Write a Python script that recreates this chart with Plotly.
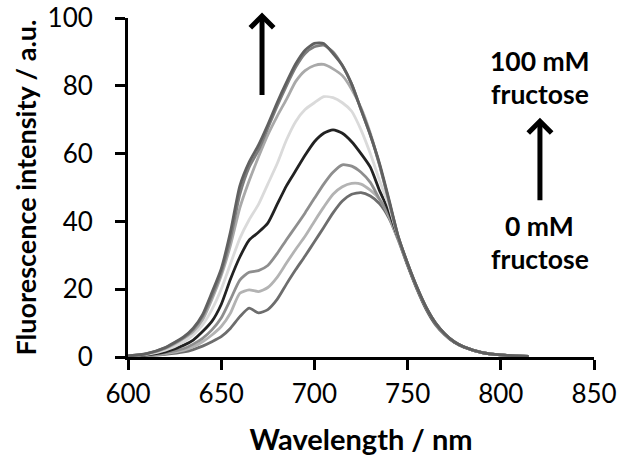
import plotly.graph_objects as go

wavelength = [600, 610, 620, 630, 635, 640, 645, 650, 655, 660, 665, 670, 675, 680,
              685, 690, 695, 700, 705, 710, 715, 720, 725, 730, 735, 740, 745, 750,
              755, 760, 765, 770, 775, 780, 790, 800, 815]

series_names = ["0 mM", "5 mM", "10 mM", "20 mM", "30 mM", "50 mM", "70 mM", "100 mM"]

s0 = [0.2, 0.4, 0.8, 1.5, 2.2, 3.2, 4.5, 6, 8.5, 11.9, 14.4, 13, 14, 17, 21.5, 25.8, 29.8, 34,
      38.2, 42.5, 46, 48, 48.5, 47.5, 45.2, 41, 34.5, 27, 20, 14, 9.5, 6.5, 4.3, 3, 1.3, 0.6, 0.2]
s1 = [0.2, 0.5, 1, 2, 3, 4.5, 6.5, 9, 13, 18.8, 19.8, 19.3, 20.5, 23.5, 27.7, 31.8, 35.6, 40,
      44.2, 48, 50.2, 51.2, 51, 49.2, 46.5, 41.5, 34.5, 27.2, 20.2, 14.2, 9.7, 6.6, 4.4, 3, 1.3, 0.6, 0.2]
s2 = [0.2, 0.5, 1.2, 2.5, 3.8, 5.5, 8, 11.5, 17, 22.7, 25, 25.5, 27, 30.5, 34.6, 38.5, 42.5, 46.8,
      51, 54.5, 56.7, 56.3, 54.5, 51.5, 46.5, 42, 35, 27.5, 20.5, 14.5, 10, 6.8, 4.5, 3, 1.3, 0.6, 0.2]
s3 = [0.2, 0.6, 1.5, 3.5, 5, 7.5, 10.5, 15.5, 23, 29.5, 34.5, 36.8, 39.5, 45, 50.5, 55, 59.5, 63.5,
      66, 67, 66, 63.5, 60, 56, 49, 43, 35, 27.3, 20.3, 14.3, 9.8, 6.7, 4.4, 3, 1.3, 0.6, 0.2]
s4 = [0.3, 0.8, 2, 4.5, 6.5, 9.5, 14, 20, 27.5, 35, 40.5, 45, 51, 57, 64, 69.5, 73, 75,
      76.8, 76.5, 75, 72.5, 67, 60, 52, 44.5, 35.2, 27.5, 20.5, 14.5, 10, 6.8, 4.5, 3, 1.3, 0.6, 0.2]
s5 = [0.3, 0.9, 2.5, 5.5, 7.5, 11, 17, 24, 33, 44, 52, 59, 65.5, 71, 76, 81.3, 84.5, 86,
      86.3, 85, 83, 79, 73.5, 66, 56.5, 46, 35.3, 27.5, 20.5, 14.5, 10, 6.8, 4.5, 3, 1.3, 0.6, 0.2]
s6 = [0.3, 1, 2.7, 5.8, 8.2, 12, 18, 25, 35, 48, 56, 61, 67.5, 74, 80, 85.5, 89.5, 91.5,
      92, 90, 86, 80.5, 73, 65.5, 56.5, 46, 35.5, 27.6, 20.6, 14.6, 10, 6.8, 4.5, 3, 1.3, 0.6, 0.2]
s7 = [0.3, 1, 2.8, 6, 8.5, 12.5, 19, 26, 37, 50.5, 57.5, 62.5, 68.5, 75, 81, 86.5, 90.5, 92.5,
      92.5, 89.5, 86, 80.5, 73, 65.5, 57, 46.5, 35.5, 27.6, 20.6, 14.6, 10, 6.8, 4.5, 3, 1.3, 0.6, 0.2]

series_values = [s0, s1, s2, s3, s4, s5, s6, s7]
series_colors = ["#6d6d6d", "#b3b3b3", "#8e8e8e", "#222222", "#dadada", "#a9a9a9", "#7d7d7d", "#606060"]

x_ticks = [600, 650, 700, 750, 800, 850]
y_ticks = [0, 20, 40, 60, 80, 100]

FONT = "Lato"

fig = go.Figure()
for name, vals, col in zip(series_names, series_values, series_colors):
    fig.add_trace(go.Scatter(x=wavelength, y=vals, mode="lines", name=name,
                             line=dict(color=col, width=2.8, shape="spline", smoothing=0.6),
                             showlegend=False))

axis_common = dict(showline=True, linecolor="black", linewidth=3, ticks="outside",
                   ticklen=10, tickwidth=3, tickcolor="black", showgrid=False,
                   zeroline=False, tickfont=dict(family=FONT, size=26, color="black"))

fig.update_xaxes(range=[600, 850], tickvals=x_ticks, ticklabelstandoff=2,
                 title=dict(text="<b>Wavelength / nm</b>", standoff=22,
                            font=dict(family=FONT, size=29, color="black")),
                 **axis_common)
fig.update_yaxes(range=[0, 100], tickvals=y_ticks, ticklabelstandoff=17,
                 title=dict(text="<b>Fluorescence intensity / a.u.</b>", standoff=4,
                            font=dict(family=FONT, size=27, color="black")),
                 **axis_common)

ann_font = dict(family=FONT, size=26.5, color="black")


def py(pix):
    return (357 - pix) / 338.5


fig.update_layout(
    width=619, height=458,
    margin=dict(l=128, r=25, t=18, b=101, autoexpand=False),
    paper_bgcolor="white", plot_bgcolor="white",
    annotations=[
        dict(xref="paper", yref="paper", x=0.2876, y=py(13), ax=0, ay=84,
             showarrow=True, arrowhead=4, arrowsize=0.9, arrowwidth=5,
             arrowcolor="black", text=""),
        dict(xref="paper", yref="paper", x=0.884, y=py(118), ax=0, ay=84,
             showarrow=True, arrowhead=4, arrowsize=0.9, arrowwidth=5,
             arrowcolor="black", text=""),
        dict(xref="paper", yref="paper", x=0.884, y=py(61), text="<b>100 mM</b>",
             showarrow=False, font=ann_font, xanchor="center", yanchor="middle"),
        dict(xref="paper", yref="paper", x=0.884, y=py(94), text="<b>fructose</b>",
             showarrow=False, font=ann_font, xanchor="center", yanchor="middle"),
        dict(xref="paper", yref="paper", x=0.884, y=py(226), text="<b>0 mM</b>",
             showarrow=False, font=ann_font, xanchor="center", yanchor="middle"),
        dict(xref="paper", yref="paper", x=0.884, y=py(259), text="<b>fructose</b>",
             showarrow=False, font=ann_font, xanchor="center", yanchor="middle"),
    ],
)

fig.write_html("out.html")
